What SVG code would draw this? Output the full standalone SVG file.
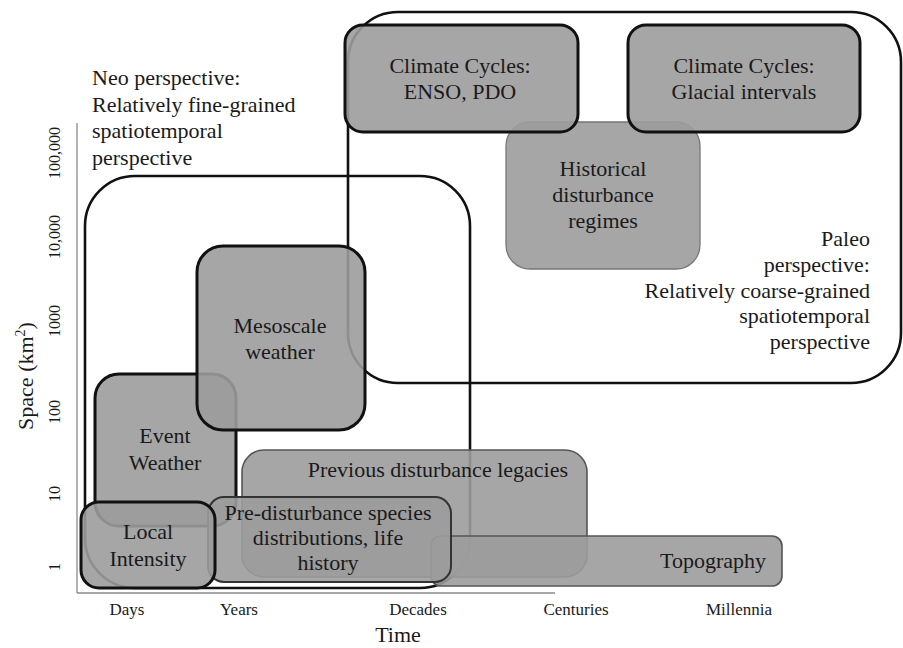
<svg xmlns="http://www.w3.org/2000/svg" width="903" height="648" viewBox="0 0 903 648">
<style>
text{font-family:"Liberation Serif","Times New Roman",serif;fill:#1a1a1a}
.t{font-size:22px}
.c{text-anchor:middle}
.e{text-anchor:end}
.ax{font-size:17px}
.yl{font-size:16px;text-anchor:middle}
.frame{fill:none;stroke:#111;stroke-width:2.6}
.axis{stroke:#8a8a8a;stroke-width:1.3;fill:none}
.box{fill:#9c9c9c;fill-opacity:0.9}
.thick{stroke:#111;stroke-width:3}
.thin{stroke:#555;stroke-width:1.6}
.thinl{stroke:#777;stroke-width:1.3}
</style>
<rect width="903" height="648" fill="#fff"/>
<g id="axes">
<line class="axis" x1="77" y1="123" x2="77" y2="593"/>
<line class="axis" x1="77" y1="593" x2="555" y2="593"/>
<text class="yl" transform="translate(60,153) rotate(-90)">100,000</text>
<text class="yl" transform="translate(60,237) rotate(-90)">10,000</text>
<text class="yl" transform="translate(60,321) rotate(-90)">1000</text>
<text class="yl" transform="translate(60,412) rotate(-90)">100</text>
<text class="yl" transform="translate(60,494) rotate(-90)">10</text>
<text class="yl" transform="translate(60,567) rotate(-90)">1</text>
<text class="t c" transform="translate(33,376) rotate(-90)">Space (km<tspan font-size="14" dy="-8">2</tspan><tspan dy="8">)</tspan></text>
<text class="ax c" x="127" y="615">Days</text>
<text class="ax c" x="239" y="615">Years</text>
<text class="ax c" x="418" y="615">Decades</text>
<text class="ax c" x="576" y="615">Centuries</text>
<text class="ax c" x="739" y="615">Millennia</text>
<text class="t c" x="398" y="642">Time</text>
</g>
<g id="neo-perspective">
<rect class="frame" x="85" y="176" width="385" height="412" rx="50"/>
<text class="t" x="92" y="85">Neo perspective:</text>
<text class="t" x="92" y="111.5">Relatively fine-grained</text>
<text class="t" x="92" y="138">spatiotemporal</text>
<text class="t" x="92" y="164.5">perspective</text>
</g>
<g id="paleo-perspective">
<rect class="frame" x="348" y="12" width="553" height="371" rx="50"/>
<text class="t e" x="870" y="246">Paleo</text>
<text class="t e" x="870" y="272">perspective:</text>
<text class="t e" x="870" y="297.5">Relatively coarse-grained</text>
<text class="t e" x="870" y="323">spatiotemporal</text>
<text class="t e" x="870" y="348.5">perspective</text>
</g>
<g id="historical">
<rect class="box thinl" x="506" y="122" width="194" height="147" rx="24"/>
<text class="t c" x="603" y="176">Historical</text>
<text class="t c" x="603" y="202">disturbance</text>
<text class="t c" x="603" y="228">regimes</text>
</g>
<g id="enso">
<rect class="box thick" x="345" y="25" width="233" height="107" rx="18"/>
<text class="t c" x="460" y="73">Climate Cycles:</text>
<text class="t c" x="460" y="99">ENSO, PDO</text>
</g>
<g id="glacial">
<rect class="box thick" x="628" y="25" width="232" height="107" rx="18"/>
<text class="t c" x="744" y="73">Climate Cycles:</text>
<text class="t c" x="744" y="99">Glacial intervals</text>
</g>
<g id="event-weather">
<rect class="box thick" x="95" y="374" width="141" height="152" rx="24"/>
<text class="t c" x="165" y="443">Event</text>
<text class="t c" x="165" y="470">Weather</text>
</g>
<g id="mesoscale">
<rect class="box thick" x="197" y="246" width="168" height="184" rx="26"/>
<text class="t c" x="280" y="333">Mesoscale</text>
<text class="t c" x="280" y="359">weather</text>
</g>
<g id="previous-legacies">
<rect class="box thin" x="242" y="450" width="345" height="127" rx="22"/>
<text class="t e" x="568" y="477">Previous disturbance legacies</text>
</g>
<g id="topography">
<rect class="box thin" x="431" y="536" width="351" height="50" rx="10"/>
<text class="t e" x="766" y="568">Topography</text>
</g>
<g id="pre-disturbance">
<rect class="box" stroke="#333" stroke-width="2" x="208" y="497" width="243" height="85" rx="16"/>
<text class="t c" x="328" y="520">Pre-disturbance species</text>
<text class="t c" x="328" y="545">distributions, life</text>
<text class="t c" x="328" y="570">history</text>
</g>
<g id="local-intensity">
<rect class="box thick" x="81" y="502" width="134" height="86" rx="18"/>
<text class="t c" x="148" y="539">Local</text>
<text class="t c" x="148" y="566">Intensity</text>
</g>
</svg>
